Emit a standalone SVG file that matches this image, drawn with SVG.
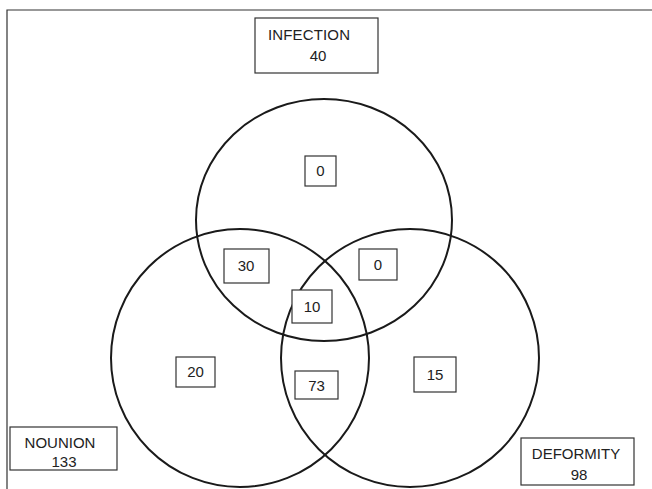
<svg xmlns="http://www.w3.org/2000/svg" width="652" height="489" viewBox="0 0 652 489">
<style>
.c{fill:none;stroke:#1a1a1a;stroke-width:2}
.b{fill:#fff;stroke:#333;stroke-width:1.2}
.t{font-family:"Liberation Sans",Arial,sans-serif;font-size:15px;fill:#222;text-anchor:middle}
</style>
<rect width="652" height="489" fill="#fff"/>
<path d="M7,489 V10 H652" fill="none" stroke="#333" stroke-width="1.2"/>
<g id="connectors">
<ellipse id="circle-infection" class="c" cx="324" cy="220" rx="128" ry="121"/>
<circle id="circle-nounion" class="c" cx="240" cy="358" r="129"/>
<circle id="circle-deformity" class="c" cx="410" cy="358" r="129"/>
</g>
<g id="infection"><rect class="b" x="255" y="18" width="123" height="55"/><text class="t" x="309" y="40" textLength="82">INFECTION</text><text class="t" x="318" y="61">40</text></g>
<g id="nounion"><rect class="b" x="10" y="427" width="107" height="43"/><text class="t" x="60" y="448">NOUNION</text><text class="t" x="64" y="467">133</text></g>
<g id="deformity"><rect class="b" x="521" y="438" width="113" height="47"/><text class="t" x="576" y="459">DEFORMITY</text><text class="t" x="579" y="480">98</text></g>
<g id="r-inf"><rect class="b" x="305" y="156" width="31" height="30"/><text class="t" x="320.5" y="176">0</text></g>
<g id="r-inf-non"><rect class="b" x="224" y="249" width="45" height="34"/><text class="t" x="246" y="271">30</text></g>
<g id="r-inf-def"><rect class="b" x="359" y="249" width="38" height="31"/><text class="t" x="378" y="270">0</text></g>
<g id="r-all"><rect class="b" x="292" y="290" width="40" height="33"/><text class="t" x="312" y="312">10</text></g>
<g id="r-non"><rect class="b" x="176" y="357" width="39" height="30"/><text class="t" x="195.5" y="377">20</text></g>
<g id="r-non-def"><rect class="b" x="295" y="371" width="43" height="28"/><text class="t" x="316.5" y="391">73</text></g>
<g id="r-def"><rect class="b" x="414" y="357" width="42" height="35"/><text class="t" x="435" y="380">15</text></g>
</svg>
